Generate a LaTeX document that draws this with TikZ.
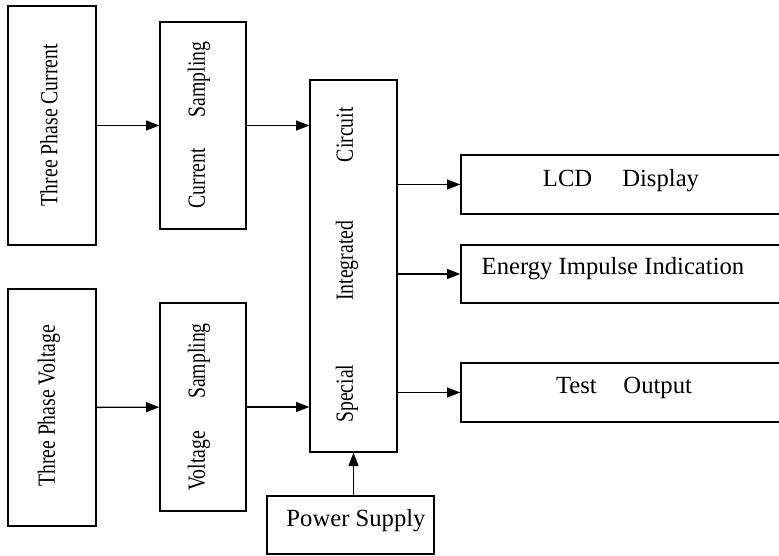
\documentclass[tikz,border=0pt]{standalone}
\usepackage{fontspec}
\setmainfont{Liberation Serif}
\newfontfamily\narrowfont[FakeStretch=0.8]{Liberation Serif}
\usetikzlibrary{arrows.meta}
\begin{document}
\begin{tikzpicture}[x=0.75pt,y=-0.75pt,line width=1pt,
      box/.style={draw,inner sep=0pt},
      hlabel/.style={font=\fontsize{18.5}{20}\selectfont},
      vlabel/.style={rotate=90,inner sep=0pt,font=\narrowfont\fontsize{18.5}{20}\selectfont},
      arr/.style={-{Triangle[length=10pt,width=7.5pt]}}]
      \useasboundingbox (0,0) rectangle (779,556);
      \clip (0,0) rectangle (779,556);
      % inputs
      \node[box,minimum width=66pt,minimum height=179.25pt] (curin) at (52,125.5) {};
      \node[box,minimum width=64.5pt,minimum height=155.25pt] (cursamp) at (203,125.5) {};
      \node[box,minimum width=66pt,minimum height=177.75pt] (volin) at (52,407.5) {};
      \node[box,minimum width=64.5pt,minimum height=156pt] (volsamp) at (203,407) {};
      \node[box,minimum width=65.25pt,minimum height=279pt] (sic) at (353.5,266) {};
      \node[box,minimum width=125.25pt,minimum height=43.5pt] (power) at (350.5,525) {};
      % outputs
      \node[box,minimum width=243pt,minimum height=44.25pt] (lcd) at (623,184.5) {};
      \node[box,minimum width=243pt,minimum height=43.5pt] (energy) at (623,274) {};
      \node[box,minimum width=243pt,minimum height=44.25pt] (test) at (623,392.5) {};
      % texts
      \node[vlabel] (curintext) at (49,125) {Three Phase Current};
      \node[vlabel] (cursamptext) at (199,125) {Current\hspace{23pt}Sampling};
      \node[vlabel] (volintext) at (49,406) {Three Phase Voltage};
      \node[vlabel] (volsamptext) at (199,407) {Voltage\hspace{24pt}Sampling};
      \node[vlabel] (sictext) at (347,265) {Special\hspace{48pt}Integrated\hspace{44pt}Circuit};
      \node[hlabel] (powertext) at (356,521) {Power Supply};
      \node[hlabel] (lcdtext) at (621,181) {LCD\hspace{22.5pt}Display};
      \node[hlabel] (energytext) at (613,269) {Energy Impulse Indication};
      \node[hlabel] (testtext) at (624,388) {Test\hspace{20pt}Output};
      % connectors
      \draw[arr] (curin) -- (cursamp);
      \draw[arr] (volin) -- (volsamp);
      \draw[arr] (cursamp.east) -- (cursamp.east -| sic.west);
      \draw[arr] (volsamp.east) -- (volsamp.east -| sic.west);
      \draw[arr] (sic.south |- power.north) -- (sic.south);
      \draw[arr] (sic.east |- lcd.west) -- (lcd.west);
      \draw[arr] (sic.east |- energy.west) -- (energy.west);
      \draw[arr] (sic.east |- test.west) -- (test.west);
   \end{tikzpicture}
\end{document}
